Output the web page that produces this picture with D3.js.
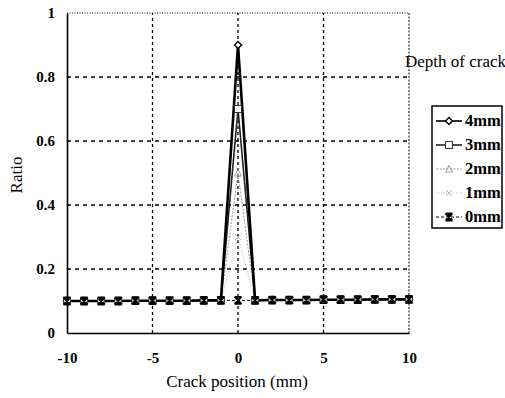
<!DOCTYPE html>
<html>
<head>
<meta charset="utf-8">
<script src="https://cdn.jsdelivr.net/npm/d3@7"></script>
<style>
  body { margin: 0; background: #fff; }
  svg { display: block; }
</style>
</head>
<body>
<svg id="chart" width="505" height="398"></svg>
<script>
const FONT = '"Liberation Serif", "Times New Roman", serif';

// Crack position (mm), every integer from -10 to 10
const positions = [-10,-9,-8,-7,-6,-5,-4,-3,-2,-1,0,1,2,3,4,5,6,7,8,9,10];

// Baseline ratio far from the crack (rises very slightly to the right)
const baseline = [0.100,0.100,0.100,0.100,0.101,0.101,0.101,0.101,0.102,0.102,0.102,0.102,0.103,0.103,0.103,0.104,0.104,0.104,0.105,0.105,0.105];

// Ratio directly over the crack for each depth
const depths = ["4mm", "3mm", "2mm", "1mm", "0mm"];
const peakRatio = [0.90, 0.70, 0.50, 0.30, 0.102];

const xTicks = [-10, -5, 0, 5, 10];
const yTicks = [0, 0.2, 0.4, 0.6, 0.8, 1];
const yTickLabels = ["0", "0.2", "0.4", "0.6", "0.8", "1"];

// Series: baseline everywhere, peak value at position 0
const series = depths.map((name, i) => ({
  name,
  values: positions.map((p, j) => ({ x: p, y: p === 0 ? peakRatio[i] : baseline[j] }))
}));

const svg = d3.select("#chart");
const m = { left: 67, right: 409, top: 13, bottom: 333 };

const x = d3.scaleLinear().domain([-10, 10]).range([m.left, m.right]);
const y = d3.scaleLinear().domain([0, 1]).range([m.bottom, m.top]);

// Grid lines
const grid = svg.append("g");
grid.selectAll("line.gx").data(xTicks.filter(t => t > -10 && t < 10)).join("line")
  .attr("x1", d => x(d)).attr("x2", d => x(d))
  .attr("y1", y(0)).attr("y2", y(1))
  .attr("stroke", "#000").attr("stroke-width", 1.3).attr("stroke-dasharray", "3,3");
grid.selectAll("line.gy").data(yTicks.filter(t => t > 0 && t < 1)).join("line")
  .attr("x1", x(-10)).attr("x2", x(10))
  .attr("y1", d => y(d)).attr("y2", d => y(d))
  .attr("stroke", "#000").attr("stroke-width", 1.3).attr("stroke-dasharray", "4,4");

// Frame: solid left and bottom, dotted top and right
svg.append("line").attr("x1", x(-10)).attr("x2", x(10)).attr("y1", y(1)).attr("y2", y(1))
  .attr("stroke", "#000").attr("stroke-width", 1).attr("stroke-dasharray", "1,1.5");
svg.append("line").attr("x1", x(10)).attr("x2", x(10)).attr("y1", y(1)).attr("y2", y(0))
  .attr("stroke", "#000").attr("stroke-width", 1).attr("stroke-dasharray", "2,1.5");

// Axes
const xAxis = svg.append("g").attr("transform", `translate(0,${y(0)})`)
  .call(d3.axisBottom(x).tickValues(xTicks).tickSize(0).tickPadding(19).tickFormat(d => d));
const yAxis = svg.append("g").attr("transform", `translate(${x(-10)},0)`)
  .call(d3.axisLeft(y).tickValues(yTicks).tickSize(0).tickPadding(12).tickFormat((d, i) => yTickLabels[i]));
[xAxis, yAxis].forEach(a => {
  a.select(".domain").attr("stroke", "#000").attr("stroke-width", 1.6);
  a.selectAll("text").style("font-family", FONT).style("font-size", "15px")
    .style("font-weight", "bold").attr("fill", "#000");
});

// Axis titles
svg.append("text").attr("x", (x(-10) + x(10)) / 2 - 1).attr("y", 387)
  .attr("text-anchor", "middle").style("font-family", FONT).style("font-size", "17px")
  .text("Crack position (mm)");
svg.append("text").attr("transform", `translate(22,${y(0.5) + 2}) rotate(-90)`)
  .attr("text-anchor", "middle").style("font-family", FONT).style("font-size", "17px")
  .text("Ratio");

// Line styles per depth
const styles = {
  "4mm": { stroke: "#000", width: 2.6, dash: null },
  "3mm": { stroke: "#222", width: 1.6, dash: null },
  "2mm": { stroke: "#999", width: 1.0, dash: "2,1.5" },
  "1mm": { stroke: "#bbb", width: 1.0, dash: "1,1.5" },
  "0mm": { stroke: "#000", width: 1.0, dash: "3,2" }
};

const line = d3.line().x(d => x(d.x)).y(d => y(d.y));

// Lines: shallow depths first so the deep crack curve sits on top
const lineOrder = ["0mm", "1mm", "2mm", "3mm", "4mm"];
lineOrder.forEach(name => {
  const s = series.find(d => d.name === name);
  const st = styles[name];
  svg.append("path").datum(s.values)
    .attr("fill", "none").attr("stroke", st.stroke).attr("stroke-width", st.width)
    .attr("stroke-dasharray", st.dash).attr("stroke-linejoin", "miter")
    .attr("d", line);
});

// Marker shapes per depth
function drawMarker(g, name, cx, cy) {
  if (name === "4mm") {
    g.append("path").attr("d", `M${cx},${cy-3.5}L${cx+3.5},${cy}L${cx},${cy+3.5}L${cx-3.5},${cy}Z`)
      .attr("fill", "#fff").attr("stroke", "#000").attr("stroke-width", 1.4);
  } else if (name === "3mm") {
    g.append("rect").attr("x", cx - 3.5).attr("y", cy - 3.5).attr("width", 7).attr("height", 7)
      .attr("fill", "#fff").attr("stroke", "#333").attr("stroke-width", 1);
  } else if (name === "2mm") {
    g.append("path").attr("d", `M${cx},${cy-3.5}L${cx+3.5},${cy+3}L${cx-3.5},${cy+3}Z`)
      .attr("fill", "none").attr("stroke", "#999").attr("stroke-width", 1);
  } else if (name === "1mm") {
    g.append("path").attr("d", `M${cx-3},${cy-3}L${cx+3},${cy+3}M${cx-3},${cy+3}L${cx+3},${cy-3}`)
      .attr("stroke", "#bbb").attr("stroke-width", 1);
  } else {
    g.append("path").attr("d", `M${cx-3.5},${cy-3.5}L${cx+3.5},${cy+3.5}M${cx-3.5},${cy+3.5}L${cx+3.5},${cy-3.5}M${cx-3.5},${cy-3.5}L${cx+3.5},${cy-3.5}M${cx-3.5},${cy+3.5}L${cx+3.5},${cy+3.5}M${cx},${cy-4}L${cx},${cy+4}`)
      .attr("stroke", "#000").attr("stroke-width", 1.8);
  }
}

// Markers: the flat 0mm markers end up on top along the baseline
const markerOrder = ["4mm", "3mm", "2mm", "1mm", "0mm"];
markerOrder.forEach(name => {
  const s = series.find(d => d.name === name);
  const g = svg.append("g");
  s.values.forEach(v => drawMarker(g, name, x(v.x), y(v.y)));
});

// Legend
svg.append("text").attr("x", 405).attr("y", 67)
  .style("font-family", FONT).style("font-size", "17px").text("Depth of crack");
const lg = svg.append("g");
lg.append("rect").attr("x", 432).attr("y", 106).attr("width", 70).attr("height", 122)
  .attr("fill", "#fff").attr("stroke", "#000").attr("stroke-width", 1.5);
depths.forEach((name, i) => {
  const ly = 121 + i * 24;
  const st = styles[name];
  lg.append("line").attr("x1", 436).attr("x2", 462).attr("y1", ly).attr("y2", ly)
    .attr("stroke", st.stroke).attr("stroke-width", Math.min(st.width, 1.6))
    .attr("stroke-dasharray", st.dash);
  drawMarker(lg, name, 449, ly);
  lg.append("text").attr("x", 465).attr("y", ly + 5)
    .style("font-family", FONT).style("font-size", "16.5px").style("font-weight", "bold")
    .text(name);
});
</script>
</body>
</html>
